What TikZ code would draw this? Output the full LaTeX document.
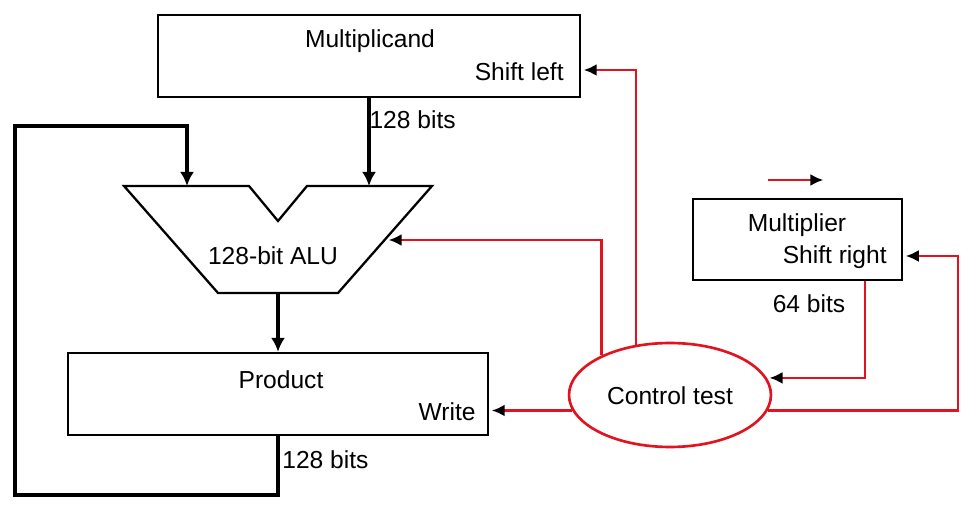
\documentclass[tikz,border=0pt]{standalone}
\usepackage{fontspec}
\setmainfont{Liberation Sans}
\usetikzlibrary{shapes.geometric,arrows.meta}
\definecolor{ctlred}{RGB}{226,18,30}
\tikzset{
  reg/.style={draw,line width=1.3pt,inner sep=0pt},
  lbl/.style={inner sep=0pt,font=\fontsize{14}{16}\selectfont},
  bus/.style={line width=2.6pt,-{Latex[length=2.8mm,width=2.8mm]}},
  ctl/.style={draw=ctlred,line width=1.4pt,shorten >=1.5pt,
    -{Latex[black,length=2.6mm,width=2.4mm]}}
}
\begin{document}
\begin{tikzpicture}[x=0.02cm,y=-0.02cm]
            \useasboundingbox (0,0) rectangle (967,509);
            % registers
            \node[reg,minimum width=8.44cm,minimum height=1.64cm] (mcand) at (369,56) {};
            \node[lbl] (mcandtxt) at (370,41) {Multiplicand};
            \node[lbl,anchor=east] (mcandop) at (564,72) {Shift left};
            \node[reg,minimum width=4.18cm,minimum height=1.62cm] (mplier) at (797.5,239.5) {};
            \node[lbl] (mpliertxt) at (797,225) {Multiplier};
            \node[lbl,anchor=east] (mplierop) at (887,257) {Shift right};
            \node[reg,minimum width=8.4cm,minimum height=1.64cm] (prod) at (278,394) {};
            \node[lbl] (prodtxt) at (281,380) {Product};
            \node[lbl,anchor=east] (prodop) at (476,412) {Write};
            % ALU
            \draw[reg,line join=miter] (124,186) -- (249,186) -- (278,221) -- (307,186)
                -- (432,186) -- (338,293) -- (218,293) -- cycle;
            \coordinate (aluinL) at (187,186);
            \coordinate (aluin) at (371,186);
            \coordinate (aluout) at (278,293);
            \coordinate (aluside) at (386,240);
            \node[lbl] (alu) at (273,256) {128-bit ALU};
            % control
            \node[ellipse,draw=ctlred,line width=1.5pt,minimum width=4.04cm,
                minimum height=2.08cm,inner sep=0pt] (ctl) at (670,395) {};
            \node[lbl] (ctltxt) at (670,396) {Control test};
            % data paths
            \coordinate (loopB) at (15,495);
            \coordinate (loopT) at (15,126);
            \draw[bus] (mcand.south) -- (mcand.south |- aluin)
                node[pos=0.25,right=-1pt,lbl] (mcandbits) {128 bits};
            \draw[bus] (aluout) -- (aluout |- prod.north);
            \draw[bus] (prod.south) |- (loopB) -- (loopT) -| (aluinL);
            \node[lbl,anchor=west] (prodbits) at (282,460) {128 bits};
            \node[lbl] (mplierbits) at (809,304) {64 bits};
            % control lines
            \coordinate (ctlcorner) at (958,256);
            \coordinate (straya) at (768,180);
            \coordinate (strayb) at (826,180);
            \draw[ctl] (ctl.124) |- ([yshift=-0.28cm]mcand.east);
            \draw[ctl] (ctl.150) |- (aluside);
            \draw[ctl] (ctl.189) -- (ctl.189 -| prod.east);
            \draw[ctl] ([xshift=-0.76cm]mplier.south east) |- (ctl.10);
            \draw[ctl] (ctl.351) -| (ctlcorner) -- (ctlcorner -| mplier.east);
            \draw[ctl] (straya) -- (strayb);
\end{tikzpicture}
\end{document}
